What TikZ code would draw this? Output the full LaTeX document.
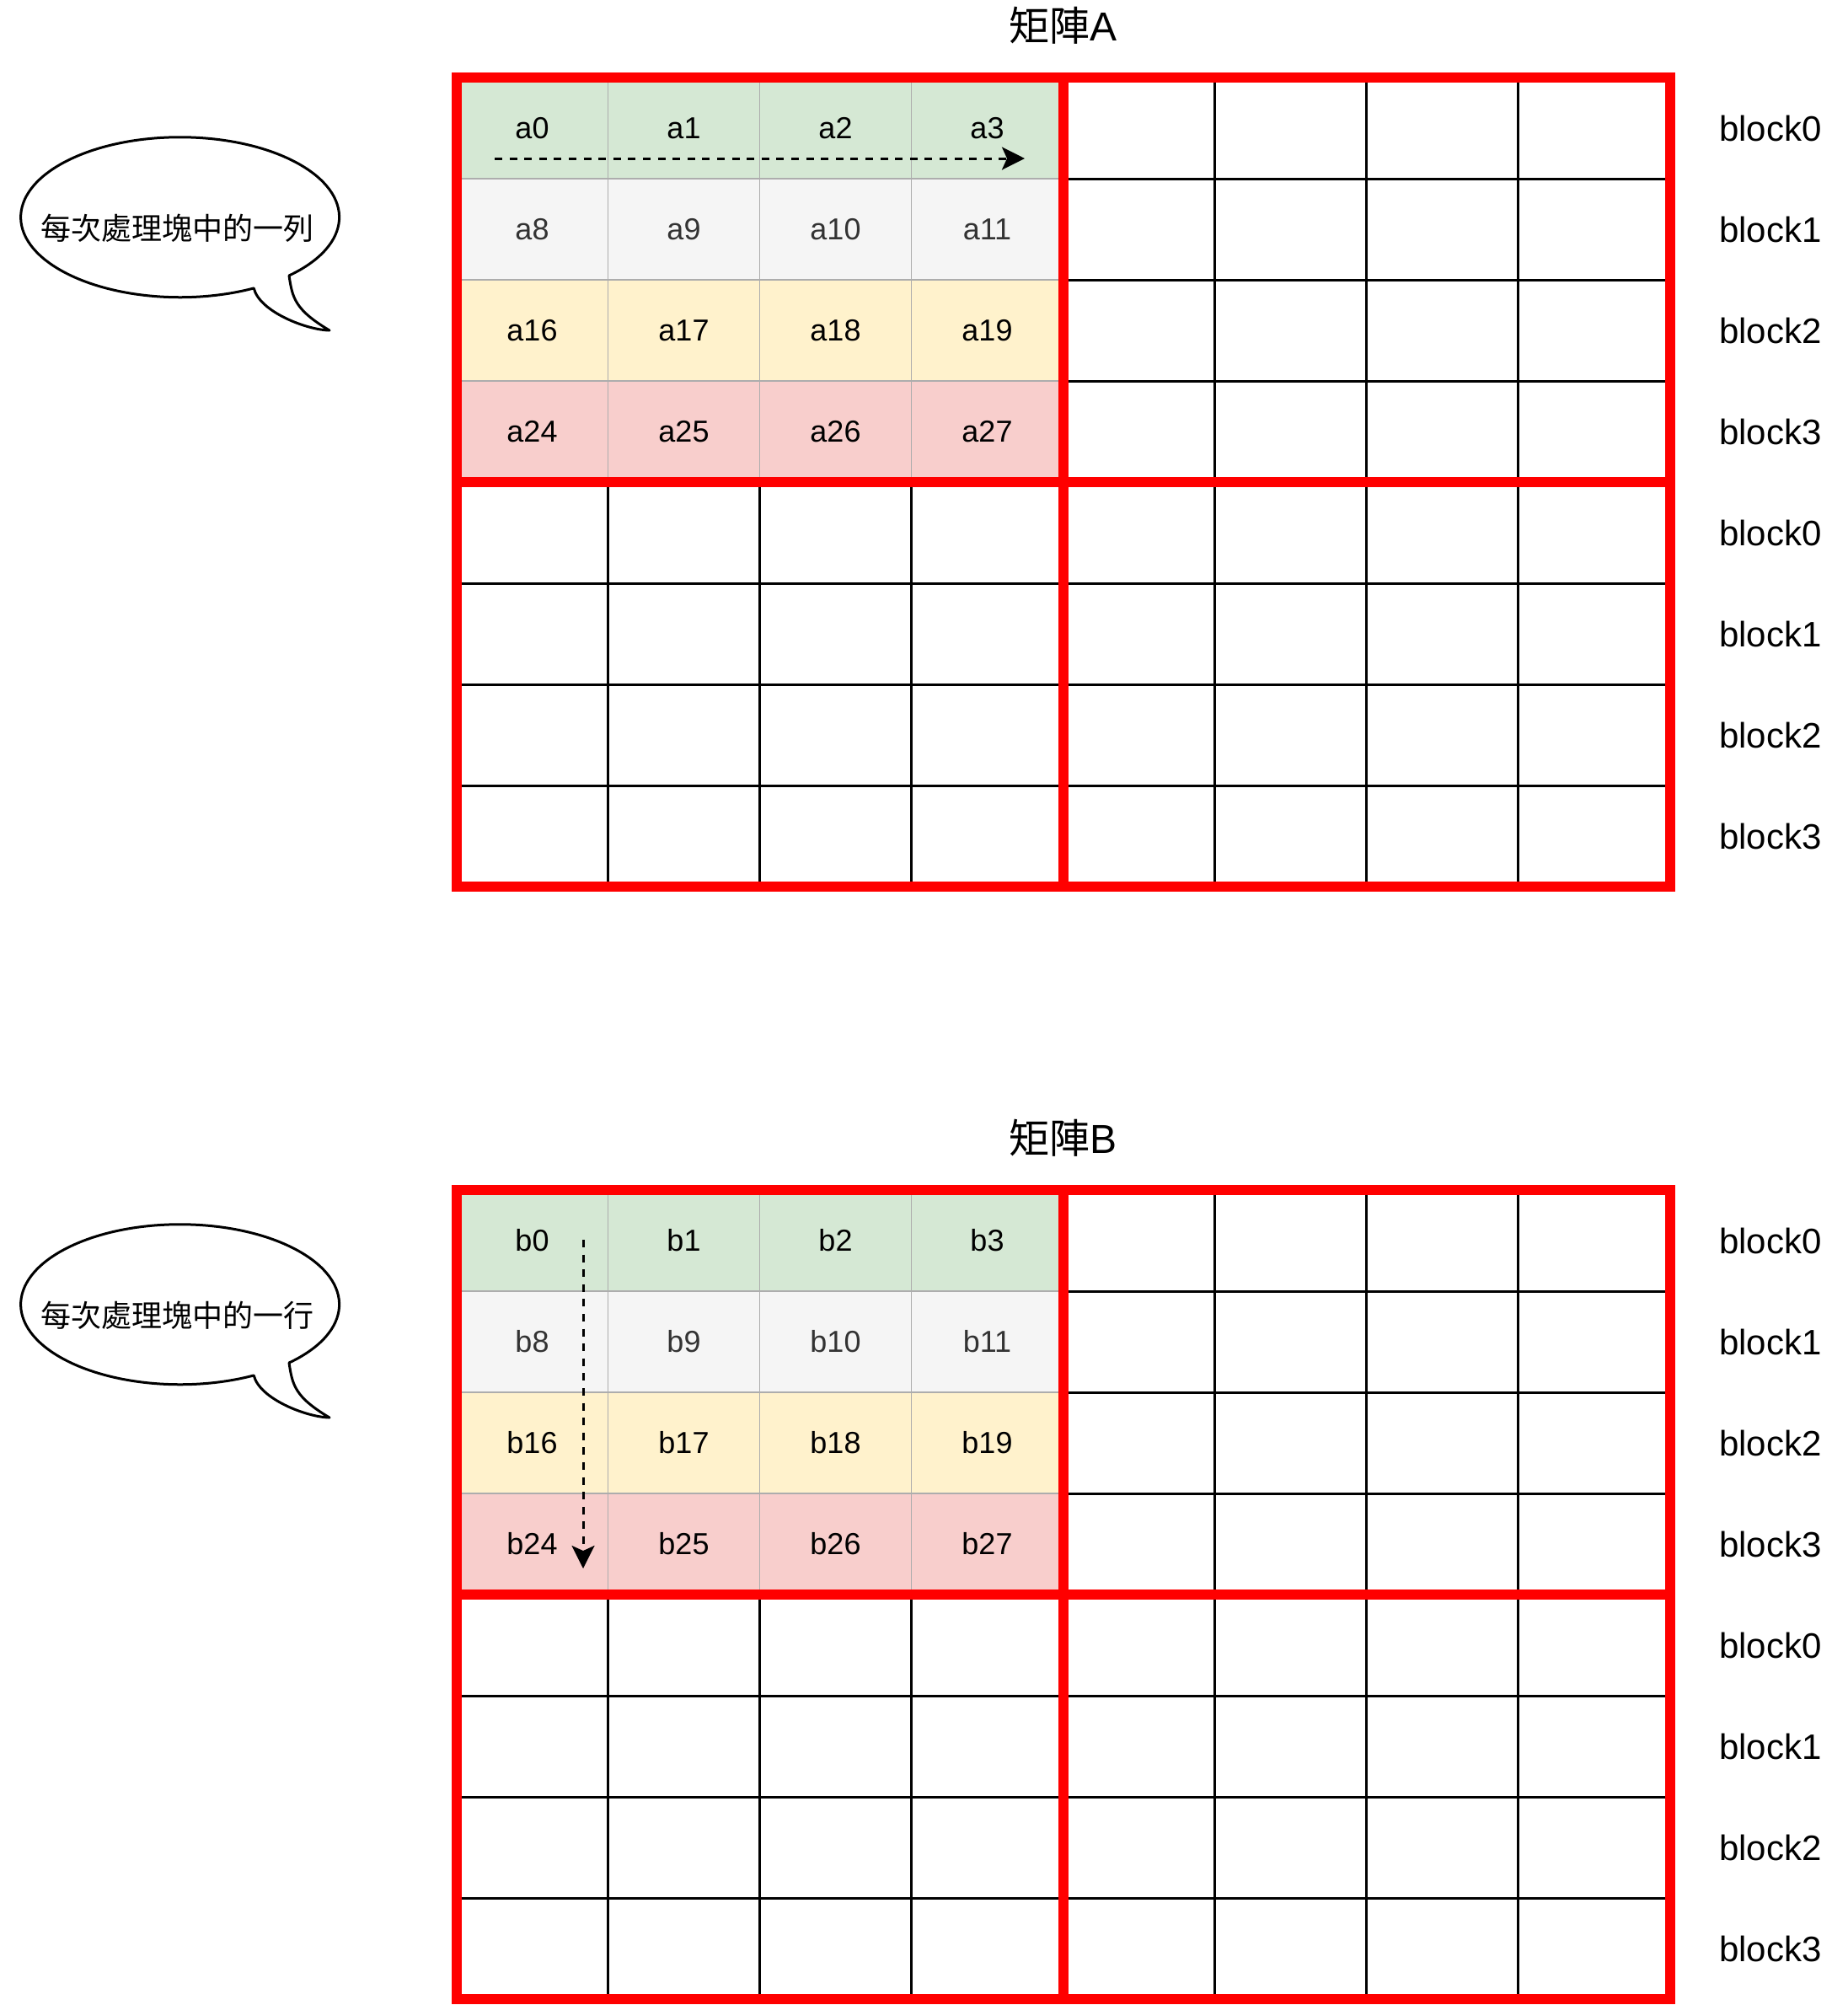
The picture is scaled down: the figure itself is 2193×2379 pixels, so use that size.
\documentclass[tikz,border=0pt]{standalone}
\usepackage{tikz}
\usepackage{xcolor}
\usepackage{fontspec}
\setmainfont{Liberation Sans}
\newfontfamily\cjk{Noto Sans CJK TC}
\usetikzlibrary{arrows.meta}

\definecolor{rowgreen}{HTML}{D5E8D4}
\definecolor{rowgray}{HTML}{F5F5F5}
\definecolor{rowyellow}{HTML}{FFF2CC}
\definecolor{rowred}{HTML}{F8CECC}
\definecolor{cellline}{HTML}{ADADAD}
\definecolor{graytext}{HTML}{333333}
\definecolor{blockred}{HTML}{FF0000}

\tikzset{
  cell/.style={draw=cellline, line width=0.75pt, minimum width=90pt, minimum height=60pt, inner sep=0pt, font=\fontsize{18}{21}\selectfont},
  gridline/.style={line width=1.5pt, black},
  blockline/.style={line width=6pt, blockred},
  blocklabel/.style={font=\fontsize{21}{24}\selectfont},
  matrixtitle/.style={font=\fontsize{24}{28}\selectfont},
  bubble/.style={draw, line width=1.5pt, fill=white, line join=round},
  bubbletext/.style={font=\cjk\fontsize{18}{21}\selectfont},
  scanarrow/.style={line width=1.5pt, dash pattern=on 4.5pt off 4.3pt, -{Stealth[length=13.5pt, width=13.5pt, inset=3pt]}}
}

\begin{document}
\begin{tikzpicture}[x=0.5pt, y=-0.5pt]
\fill[white] (0,0) rectangle (2193,2379);
\useasboundingbox (0,0) rectangle (2193,2379);

\node[matrixtitle] (titleA) at (1261.5,30) {{\cjk 矩陣}A};
\node[matrixtitle] (titleB) at (1261.5,1350) {{\cjk 矩陣}B};

\foreach \r/\fc/\tc in {0/rowgreen/black,1/rowgray/graytext,2/rowyellow/black,3/rowred/black}
  \foreach \c in {0,...,3} {
    \pgfmathtruncatemacro\idx{\r*8+\c}
    \node[cell, fill=\fc, text=\tc] (a\idx) at ({631.5+180*\c},{152+120*\r}) {a\idx};
    \node[cell, fill=\fc, text=\tc] (b\idx) at ({631.5+180*\c},{1472+120*\r}) {b\idx};
  }

\foreach \t in {92,1412} {
  \foreach \x in {1441.5,1621.5,1801.5}
    \draw[gridline] (\x,\t) -- (\x,{\t+480});
  \foreach \x in {721.5,901.5,1081.5,1441.5,1621.5,1801.5}
    \draw[gridline] (\x,{\t+480}) -- (\x,{\t+960});
  \foreach \d in {120,240,360}
    \draw[gridline] (1261.5,{\t+\d}) -- (1981.5,{\t+\d});
  \foreach \d in {600,720,840}
    \draw[gridline] (541.5,{\t+\d}) -- (1981.5,{\t+\d});
  \draw[blockline] (541.5,\t) rectangle (1981.5,{\t+960});
  \draw[blockline] (1261.5,\t) -- (1261.5,{\t+960});
  \draw[blockline] (541.5,{\t+480}) -- (1981.5,{\t+480});
}

\foreach \r in {0,...,7} {
  \pgfmathtruncatemacro\k{mod(\r,4)}
  \node[blocklabel] (blkA\r) at (2101,{152+120*\r}) {block\k};
  \node[blocklabel] (blkB\r) at (2101,{1472+120*\r}) {block\k};
}

\coordinate (rowA0) at (587,188);
\coordinate (rowA1) at (1216,188);
\draw[scanarrow] (rowA0) -- (rowA1);
\coordinate (colB0) at (692,1471);
\coordinate (colB1) at (692,1861);
\draw[scanarrow] (colB0) -- (colB1);

\draw[bubble] (343,327) arc[start angle=-46.8, end angle=297.6, x radius=94.5pt, y radius=47.5pt]
  .. controls (308,370) and (364,391.5) .. (391,392)
  .. controls (349.5,367.3) and (347,353.2) .. cycle;
\node[bubbletext] (noteA) at (210,271) {每次處理塊中的一列};

\draw[bubble] (343,1617) arc[start angle=-46.8, end angle=297.6, x radius=94.5pt, y radius=47.5pt]
  .. controls (308,1660) and (364,1681.5) .. (391,1682)
  .. controls (349.5,1657.3) and (347,1643.2) .. cycle;
\node[bubbletext] (noteB) at (210,1561) {每次處理塊中的一行};
\end{tikzpicture}
\end{document}
